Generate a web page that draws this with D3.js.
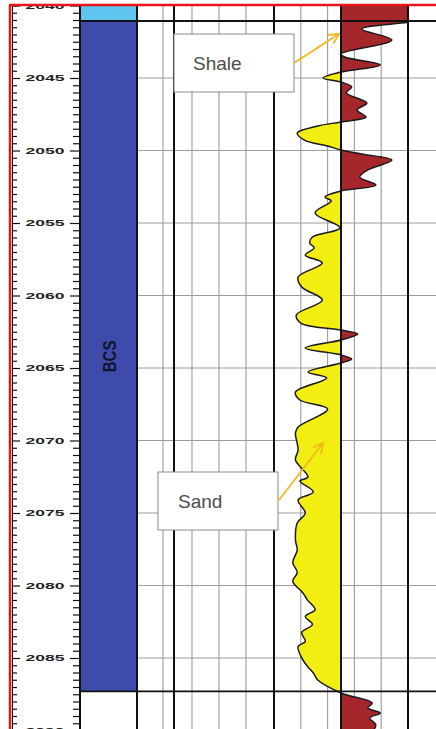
<!DOCTYPE html>
<html>
<head>
<meta charset="utf-8">
<script src="https://cdn.jsdelivr.net/npm/d3@7/dist/d3.min.js"></script>
<style>
  html, body { margin: 0; padding: 0; background: #ffffff; }
  svg { display: block; }
</style>
</head>
<body>
<svg id="chart" width="436" height="729"></svg>
<script>
// Gamma-ray log: depth (ft) and GR (API)
const depthFt = [2039.3, 2040.9, 2041.14, 2041.62, 2042.38, 2043.34, 2043.55, 2044.10, 2044.59, 2045.0,
  2045.28, 2045.62, 2046.03, 2046.72, 2047.21, 2047.69, 2048.03, 2048.31, 2048.79, 2049.28,
  2049.69, 2049.97, 2050.24, 2050.66, 2051.34, 2051.83, 2052.38, 2052.79, 2053.21, 2053.48,
  2054.31, 2055.34, 2055.97, 2056.38, 2056.72, 2057.21, 2057.76, 2058.72, 2059.41, 2060.31,
  2061.34, 2061.90, 2062.38, 2062.66, 2063.07, 2063.62, 2064.10, 2064.38, 2064.66, 2065.28,
  2065.69, 2066.66, 2067.21, 2067.83, 2069.07, 2069.48, 2070.66, 2071.34, 2072.52, 2072.79,
  2073.55, 2074.10, 2075.0, 2075.69, 2076.86, 2077.55, 2078.41, 2079.10, 2079.72, 2080.48,
  2080.97, 2081.66, 2082.14, 2082.69, 2083.24, 2083.86, 2084.21, 2085.10, 2085.62, 2086.03,
  2086.52, 2087.41, 2088.10, 2088.45, 2088.79, 2089.14, 2089.62, 2090.3];
const grApi = [175, 169, 152, 98, 132, 75, 79, 119, 75, 55,
  75, 87, 81, 104, 93, 103, 75, 49, 26, 34,
  60, 75, 98, 132, 105, 96, 114, 75, 57, 64,
  46, 74, 43, 40, 45, 35, 54, 27, 31, 54,
  25, 30, 75, 94, 75, 35, 75, 87, 75, 38,
  59, 24, 29, 60, 27, 24, 27, 24, 38, 29,
  44, 27, 35, 26, 24, 26, 21, 26, 21, 32,
  37, 46, 35, 43, 31, 35, 27, 32, 38, 44,
  49, 75, 110, 105, 119, 107, 114, 107];

// Shale / sand cutoff (API)
const grCutoff = 75;

// Formation tops and the units between them
const unitNames = ["", "BCS", ""];
const unitTops = [2039, 2041.07, 2087.3];
const unitBases = [2041.07, 2087.3, 2091];

// Depth tick labels
const depthLabels = [2040, 2045, 2050, 2055, 2060, 2065, 2070, 2075, 2080, 2085, 2090];

// Annotation callouts
const calloutText = ["Shale", "Sand"];
const calloutDepth = [2041.95, 2070.17];
const calloutGr = [73, 55];

// ---------- layout ----------
const W = 436, H = 729;
const frameX = 10, frameY = 5;
const axisRight = 80, lithRight = 137;
const grLeft = 274, grRight = 408;

const svg = d3.select("#chart");

const y = d3.scaleLinear().domain([2040, 2090]).range([5.5, 730.5]);
const x = d3.scaleLinear().domain([0, 150]).range([grLeft, grRight]);

const defs = svg.append("defs");
defs.append("clipPath").attr("id", "plotClip")
  .append("rect").attr("x", frameX).attr("y", frameY).attr("width", W - frameX).attr("height", H - frameY);
defs.append("clipPath").attr("id", "grClip")
  .append("rect").attr("x", grLeft).attr("y", frameY).attr("width", grRight - grLeft).attr("height", H - frameY);
defs.append("clipPath").attr("id", "sandClip")
  .append("rect").attr("x", grLeft).attr("y", frameY).attr("width", x(grCutoff) - grLeft).attr("height", H - frameY);
defs.append("clipPath").attr("id", "shaleClip")
  .append("rect").attr("x", x(grCutoff)).attr("y", frameY).attr("width", grRight - x(grCutoff)).attr("height", H - frameY);

defs.append("marker").attr("id", "arrowHead")
  .attr("viewBox", "0 0 12 12").attr("refX", 11).attr("refY", 6)
  .attr("markerWidth", 12).attr("markerHeight", 12).attr("markerUnits", "userSpaceOnUse")
  .attr("orient", "auto")
  .append("path").attr("d", "M1,1 L11,6 L1,11")
  .attr("fill", "none").attr("stroke", "#f2b81c").attr("stroke-width", 1.8);

const plot = svg.append("g").attr("clip-path", "url(#plotClip)");

// ---------- lithology column ----------
const unitColors = ["#5ec6ee", "#3e4bab", "#ffffff"];
plot.selectAll("rect.unit").data(unitNames).enter().append("rect")
  .attr("class", "unit")
  .attr("x", axisRight).attr("width", lithRight - axisRight)
  .attr("y", (d, i) => y(unitTops[i]))
  .attr("height", (d, i) => y(unitBases[i]) - y(unitTops[i]))
  .attr("fill", (d, i) => unitColors[i]);

plot.selectAll("text.unit").data(unitNames.filter(d => d)).enter().append("text")
  .attr("class", "unit")
  .attr("transform", `translate(${(axisRight + lithRight) / 2 + 1},${y(2064.2)}) rotate(-90) scale(1,1.25)`)
  .attr("text-anchor", "middle").attr("dominant-baseline", "central")
  .attr("font-family", "'Liberation Sans Narrow', 'Liberation Sans', Arial, sans-serif")
  .attr("font-weight", "bold").attr("font-size", 15)
  .attr("fill", "#10142e")
  .text(d => d);

// ---------- grid ----------
const grayCols = [163, 192, 219, 246, x(30), x(60), x(90), x(120)];
const blackCols = [axisRight, lithRight, 174, grLeft, x(grCutoff), grRight];
const fiveFt = d3.range(2045, 2091, 5);

plot.selectAll("line.hgrid").data(fiveFt).enter().append("line")
  .attr("x1", lithRight).attr("x2", W)
  .attr("y1", d => y(d)).attr("y2", d => y(d))
  .attr("stroke", "#9c9c9c").attr("stroke-width", 1);

plot.selectAll("line.vgrid").data(grayCols).enter().append("line")
  .attr("x1", d => d).attr("x2", d => d)
  .attr("y1", frameY).attr("y2", H)
  .attr("stroke", "#9a9a9a").attr("stroke-width", 1.1);

// ---------- gamma-ray curve ----------
const pts = depthFt.map((d, i) => ({ d, g: grApi[i] }));
const fillArea = d3.area()
  .y(p => y(p.d))
  .x0(x(grCutoff))
  .x1(p => x(p.g))
  .curve(d3.curveCatmullRom.alpha(0.5));
const grLine = d3.line()
  .y(p => y(p.d))
  .x(p => x(p.g))
  .curve(d3.curveCatmullRom.alpha(0.5));

const grG = plot.append("g").attr("clip-path", "url(#grClip)");
grG.append("g").attr("clip-path", "url(#sandClip)")
  .append("path").datum(pts).attr("d", fillArea).attr("fill", "#f3ee12");
grG.append("g").attr("clip-path", "url(#shaleClip)")
  .append("path").datum(pts).attr("d", fillArea).attr("fill", "#a5262b");
grG.append("path").datum(pts).attr("d", grLine)
  .attr("fill", "none").attr("stroke", "#1a1a1a").attr("stroke-width", 1.5)
  .attr("stroke-linejoin", "round");

// black track borders and formation-top lines
plot.selectAll("line.vblack").data(blackCols).enter().append("line")
  .attr("x1", d => d).attr("x2", d => d)
  .attr("y1", frameY).attr("y2", H)
  .attr("stroke", "#111").attr("stroke-width", 2);

plot.selectAll("line.top").data(unitTops.slice(1)).enter().append("line")
  .attr("x1", axisRight).attr("x2", W)
  .attr("y1", d => y(d)).attr("y2", d => y(d))
  .attr("stroke", "#111").attr("stroke-width", 1.8);

// ---------- depth axis ----------
const halfFt = d3.range(2039.5, 2090.5, 0.5).filter(d => d % 5 !== 0);
plot.append("g").attr("transform", `translate(${frameX + 2},0)`)
  .call(d3.axisRight(y).tickValues(halfFt).tickSize(5).tickFormat(""))
  .call(g => g.select(".domain").attr("stroke", "#111"));
plot.append("g").attr("transform", `translate(${frameX + 2},0)`)
  .call(d3.axisRight(y).tickValues(depthLabels).tickSize(8).tickFormat(""))
  .call(g => g.select(".domain").remove());
plot.append("g").attr("transform", `translate(${axisRight - 1},0)`)
  .call(d3.axisLeft(y).tickValues(halfFt).tickSize(6).tickFormat(""))
  .call(g => g.select(".domain").remove());
plot.append("g").attr("transform", `translate(${axisRight - 1},0)`)
  .call(d3.axisLeft(y).tickValues(depthLabels).tickSize(9).tickFormat(""))
  .call(g => g.select(".domain").remove());
plot.selectAll(".tick line").attr("stroke", "#111").attr("stroke-width", 1.2);

plot.selectAll("text.depth").data(depthLabels).enter().append("text")
  .attr("class", "depth")
  .attr("transform", d => `translate(45,${y(d)}) scale(1.95,1)`)
  .attr("text-anchor", "middle").attr("dominant-baseline", "central")
  .attr("font-family", "'Liberation Sans', Arial, sans-serif")
  .attr("font-weight", "bold").attr("font-size", 9)
  .attr("fill", "#222")
  .text(d => d);

// ---------- frame ----------
svg.append("line").attr("x1", frameX - 1).attr("x2", W).attr("y1", frameY).attr("y2", frameY)
  .attr("stroke", "#e8141c").attr("stroke-width", 2.5);
svg.append("line").attr("x1", frameX).attr("x2", frameX).attr("y1", frameY).attr("y2", H)
  .attr("stroke", "#e8141c").attr("stroke-width", 2.5);

// ---------- callouts ----------
const boxes = [
  { x: 174, y: 34, w: 120, h: 58, tx: 193, ax: 294, ay: 63 },
  { x: 158, y: 472, w: 120, h: 58, tx: 178, ax: 279, ay: 500 }
];
boxes.forEach((b, i) => {
  svg.append("line")
    .attr("x1", b.ax).attr("y1", b.ay)
    .attr("x2", x(calloutGr[i])).attr("y2", y(calloutDepth[i]))
    .attr("stroke", "#f2b81c").attr("stroke-width", 1.8)
    .attr("marker-end", "url(#arrowHead)");
  svg.append("rect").attr("x", b.x).attr("y", b.y).attr("width", b.w).attr("height", b.h)
    .attr("fill", "#ffffff").attr("stroke", "#8a8a8a").attr("stroke-width", 1);
  svg.append("text").attr("x", b.tx).attr("y", b.y + b.h / 2)
    .attr("dominant-baseline", "central")
    .attr("font-family", "'Liberation Sans', Arial, sans-serif")
    .attr("font-size", 19).attr("fill", "#4d4d4d")
    .text(calloutText[i]);
});
</script>
</body>
</html>
